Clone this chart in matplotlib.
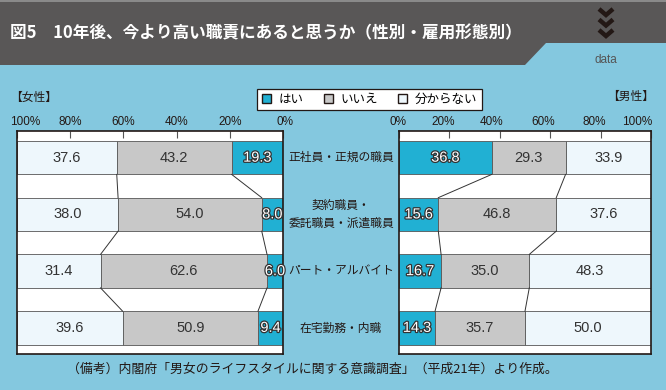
import matplotlib
matplotlib.use("Agg")
import matplotlib.pyplot as plt
import matplotlib.patheffects as pe
from matplotlib.patches import Rectangle, Polygon
from matplotlib.lines import Line2D
from matplotlib.transforms import ScaledTranslation, blended_transform_factory
import numpy as np

plt.rcParams['font.family'] = ['Noto Sans CJK JP', 'DejaVu Sans']

# data (%)
categories = ["正社員・正規の職員", "契約職員・\n委託職員・派遣職員", "パート・アルバイト", "在宅勤務・内職"]
series_names = ["はい", "いいえ", "分からない"]
women_yes = [19.3, 8.0, 6.0, 9.4]
women_no = [43.2, 54.0, 62.6, 50.9]
women_dk = [37.6, 38.0, 31.4, 39.6]
men_yes = [36.8, 15.6, 16.7, 14.3]
men_no = [29.3, 46.8, 35.0, 35.7]
men_dk = [33.9, 37.6, 48.3, 50.0]
tick_vals = [0, 20, 40, 60, 80, 100]

BG = "#84c8df"
HEADER = "#595757"
C_YES = "#21b0d3"
C_NO = "#c8c8c8"
C_DK = "#eef7fc"
colors = [C_YES, C_NO, C_DK]
NUMFONT = ['Liberation Sans', 'DejaVu Sans']

W, H = 666, 390
fig = plt.figure(figsize=(W / 100, H / 100), dpi=100, facecolor=BG)


def fx(px):
    return px / W


def fy(py):
    return 1 - py / H


# header band
fig.patches.append(Rectangle((0, fy(65)), 1, 65 / H, transform=fig.transFigure,
                             facecolor=HEADER, edgecolor="none", zorder=0))
fig.patches.append(Rectangle((0, fy(2)), 1, 2 / H, transform=fig.transFigure,
                             facecolor="#8a8a8a", edgecolor="none", zorder=0))
fig.patches.append(Polygon([(fx(525), fy(65)), (fx(546), fy(43)), (1, fy(43)), (1, fy(65))],
                           closed=True, transform=fig.transFigure,
                           facecolor=BG, edgecolor="none", zorder=1))
fig.text(fx(10), fy(33), "図5　10年後、今より高い職責にあると思うか（性別・雇用形態別）",
         color="white", fontsize=12, fontweight="bold", va="center", ha="left")
fig.text(fx(606), fy(60), "data", color="#555555", fontsize=8.5, ha="center", va="center",
         family=['Liberation Sans Narrow', 'Liberation Sans', 'DejaVu Sans'])
# chevrons
for k in range(3):
    y0 = 9 + k * 10.5
    fig.add_artist(Line2D([fx(599), fx(606), fx(613)], [fy(y0), fy(y0 + 6), fy(y0)],
                          transform=fig.transFigure, color="#231815", lw=3.2,
                          solid_joinstyle="miter", solid_capstyle="butt"))

bar_h = 0.59
ypos = np.arange(len(categories))


def draw_panel(ax, vals, inverted, label_offsets):
    ax.set_facecolor("white")
    left = np.zeros(len(categories))
    cums = []
    for j, v in enumerate(vals):
        v = np.array(v)
        ax.barh(ypos, v, left=left, height=bar_h, color=colors[j],
                edgecolor="#555555", linewidth=0.6, zorder=2)
        for i in range(len(categories)):
            cx = left[i] + v[i] / 2
            txt = f"{v[i]:.1f}"
            if j == 0:
                ax.text(cx, ypos[i], txt, ha="center", va="center", fontsize=10.5,
                        color="white", family=NUMFONT, zorder=4,
                        path_effects=[pe.withStroke(linewidth=1.8, foreground="#333333")])
            else:
                ax.text(cx, ypos[i], txt, ha="center", va="center", fontsize=10.5,
                        color="#333333", family=NUMFONT, zorder=4)
        left = left + v
        cums.append(left.copy())
    # connectors between rows
    for c in cums[:-1]:
        for i in range(len(categories) - 1):
            ax.plot([c[i], c[i + 1]], [ypos[i] + bar_h / 2, ypos[i + 1] - bar_h / 2],
                    color="#333333", lw=0.7, zorder=3)
    ax.set_xlim((100, 0) if inverted else (0, 100))
    ax.set_ylim(len(categories) - 0.54, -0.47)
    ax.set_yticks([])
    ax.xaxis.tick_top()
    ax.set_xticks(tick_vals)
    ax.set_xticklabels([f"{t}%" for t in tick_vals], fontsize=8.5, family=NUMFONT, color="#231815")
    ax.tick_params(axis="x", direction="in", length=5, width=0.8, color="#555555", pad=2)
    for lab, dx in zip(ax.get_xticklabels(), label_offsets):
        lab.set_transform(lab.get_transform() + ScaledTranslation(dx / 100, 0, fig.dpi_scale_trans))
    for s in ax.spines.values():
        s.set_color("#231815")
        s.set_linewidth(1.2)


ax_l = fig.add_axes([fx(17), 1 - 354 / H, 266 / W, 223 / H])
draw_panel(ax_l, [women_yes, women_no, women_dk], True, [2, 0, 0, 0, 0, 8])
ax_r = fig.add_axes([fx(399), 1 - 354 / H, 252 / W, 223 / H])
draw_panel(ax_r, [men_yes, men_no, men_dk], False, [-1, -6, -8, -7, -6, -14])

# category labels between panels
cat_tr = blended_transform_factory(fig.transFigure, ax_l.transData)
for i, cat in enumerate(categories):
    ax_l.text(fx(341), ypos[i], cat, transform=cat_tr, ha="center", va="center",
              fontsize=8.5, color="#231815", linespacing=1.5, clip_on=False)

# legend
handles = [Rectangle((0, 0), 1, 1, facecolor=c, edgecolor="#231815", linewidth=1.0) for c in colors]
leg = fig.legend(handles, series_names, loc="center", bbox_to_anchor=(fx(369.5), fy(99.5)),
                 ncol=3, frameon=True, fancybox=False, edgecolor="#231815", fontsize=9,
                 handlelength=0.75, handleheight=0.75, handletextpad=0.6, columnspacing=1.6,
                 borderpad=0.35, framealpha=1)
leg.get_frame().set_linewidth(0.9)

fig.text(fx(34), fy(97), "【女性】", ha="center", va="center", fontsize=8.5, color="#231815")
fig.text(fx(631), fy(96), "【男性】", ha="center", va="center", fontsize=8.5, color="#231815")

fig.text(fx(312), fy(369), "（備考）内閣府「男女のライフスタイルに関する意識調査」（平成21年）より作成。",
         ha="center", va="center", fontsize=9.3, color="#231815")

fig.savefig("out.png", dpi=100, facecolor=BG)
